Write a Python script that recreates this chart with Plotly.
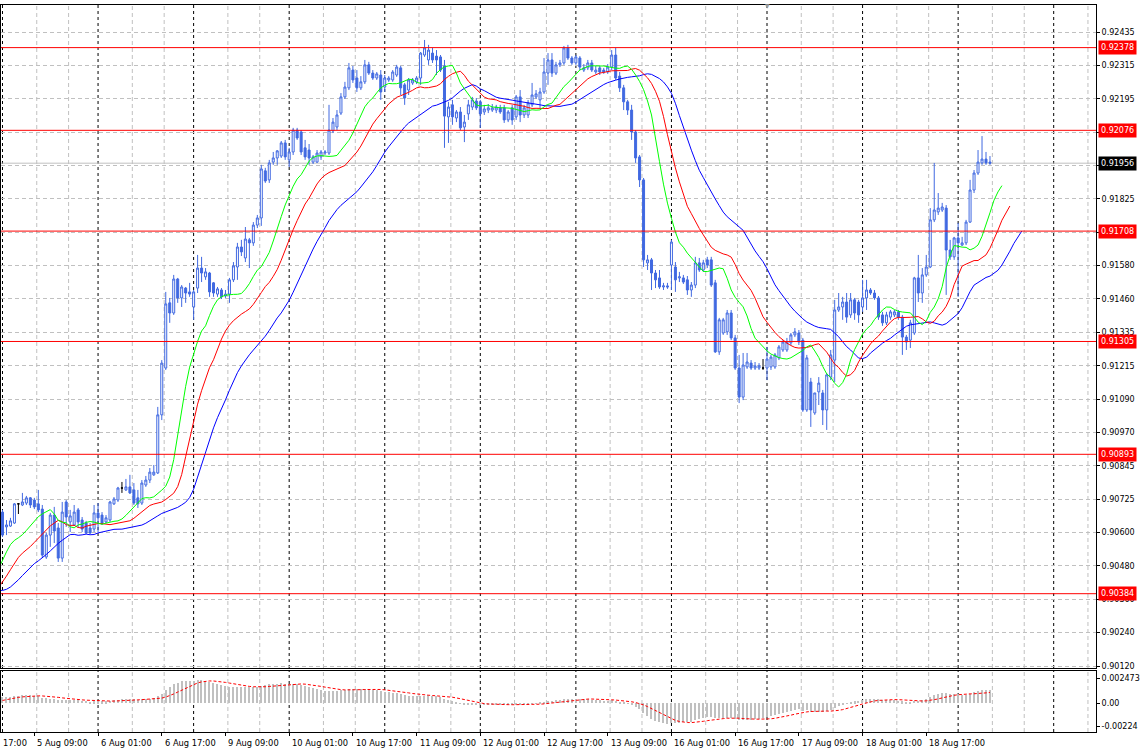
import numpy as np
import pandas as pd
import plotly.graph_objects as go

# ---------------- data (prices in points, 1 point = 0.00001) ----------------
# 30 hourly bars before the visible window (only used to warm up the indicators)
pre_open = [90450, 90440, 90455, 90430, 90420, 90445, 90460, 90440, 90425, 90410,
            90430, 90415, 90400, 90390, 90405, 90380, 90370, 90385, 90360, 90345,
            90330, 90350, 90370, 90420, 90480, 90540, 90590, 90620, 90650, 90660]
pre_high = [90462, 90467, 90467, 90442, 90457, 90472, 90472, 90452, 90437, 90442,
            90442, 90427, 90412, 90417, 90417, 90392, 90397, 90397, 90372, 90357,
            90362, 90382, 90432, 90492, 90552, 90602, 90632, 90662, 90672, 90692]
pre_low = [90428, 90428, 90418, 90408, 90408, 90433, 90428, 90413, 90398, 90398,
           90403, 90388, 90378, 90378, 90368, 90358, 90358, 90348, 90333, 90318,
           90318, 90338, 90358, 90408, 90468, 90528, 90578, 90608, 90638, 90648]
pre_close = [90440, 90455, 90430, 90420, 90445, 90460, 90440, 90425, 90410, 90430,
             90415, 90400, 90390, 90405, 90380, 90370, 90385, 90360, 90345, 90330,
             90350, 90370, 90420, 90480, 90540, 90590, 90620, 90650, 90660, 90680]

# visible H1 bars, 5 Aug 01:00 ... 19 Aug 09:00
bar_open = [
 90682, 90628, 90631, 90642, 90712, 90708, 90715, 90734, 90726, 90712,
 90693, 90518, 90598, 90671, 90624, 90514, 90719, 90646, 90635, 90690,
 90653, 90642, 90624, 90620, 90679, 90671, 90646, 90653, 90712, 90726,
 90770, 90763, 90774, 90763, 90734, 90715, 90781, 90799, 90818, 90825,
 91037, 91208, 91446, 91409, 91533, 91464, 91500, 91486, 91431, 91500,
 91573, 91541, 91555, 91519, 91478, 91493, 91471, 91478, 91530, 91577,
 91650, 91610, 91676, 91665, 91730, 91756, 91928, 91895, 91960, 91975,
 91982, 92030, 91968, 91997, 92077, 92070, 92012, 92004, 91960, 91960,
 91979, 91993, 91993, 92074, 92088, 92139, 92198, 92231, 92296, 92267,
 92231, 92253, 92315, 92285, 92267, 92278, 92234, 92260, 92260, 92278,
 92304, 92242, 92223, 92249, 92253, 92267, 92351, 92333, 92358, 92347,
 92344, 92311, 92125, 92169, 92121, 92143, 92088, 92136, 92161, 92183,
 92180, 92143, 92150, 92150, 92150, 92158, 92158, 92114, 92158, 92125,
 92198, 92132, 92132, 92169, 92198, 92187, 92216, 92285, 92333, 92285,
 92315, 92322, 92377, 92340, 92322, 92340, 92296, 92304, 92322, 92289,
 92304, 92296, 92289, 92307, 92351, 92274, 92231, 92180, 92150, 92070,
 91979, 91895, 91592, 91603, 91555, 91537, 91504, 91508, 91584, 91577,
 91537, 91537, 91530, 91493, 91511, 91592, 91566, 91603, 91603, 91519,
 91267, 91336, 91340, 91409, 91318, 91208, 91102, 91212, 91226, 91208,
 91208, 91208, 91208, 91212, 91212, 91245, 91274, 91274, 91300, 91329,
 91336, 91310, 91055, 91157, 91044, 91121, 91117, 91055, 91175, 91237,
 91420, 91431, 91449, 91402, 91457, 91449, 91431, 91464, 91493, 91482,
 91464, 91402, 91373, 91394, 91402, 91413, 91394, 91321, 91310, 91336,
 91537, 91482, 91548, 91577, 91749, 91778, 91785, 91792, 91639, 91614,
 91683, 91657, 91665, 91741, 91858, 91920, 91957, 91971, 91960]
bar_high = [
 90690, 90653, 90661, 90715, 90715, 90752, 90741, 90737, 90734, 90763,
 90708, 90606, 90679, 90701, 90642, 90719, 90726, 90690, 90708, 90697,
 90664, 90650, 90642, 90708, 90715, 90682, 90671, 90723, 90737, 90774,
 90792, 90803, 90818, 90788, 90763, 90799, 90814, 90843, 90854, 91066,
 91237, 91486, 91464, 91548, 91537, 91511, 91504, 91519, 91493, 91621,
 91614, 91573, 91559, 91522, 91504, 91500, 91493, 91537, 91595, 91665,
 91676, 91723, 91683, 91741, 91767, 91950, 91939, 91968, 91997, 92004,
 92037, 92041, 92012, 92085, 92085, 92077, 92041, 92026, 91986, 92004,
 92004, 92004, 92169, 92121, 92150, 92212, 92253, 92322, 92311, 92296,
 92274, 92333, 92326, 92296, 92289, 92296, 92278, 92274, 92296, 92315,
 92311, 92249, 92267, 92267, 92274, 92362, 92406, 92388, 92377, 92369,
 92351, 92333, 92180, 92187, 92150, 92161, 92132, 92187, 92198, 92194,
 92187, 92169, 92172, 92172, 92169, 92169, 92169, 92150, 92169, 92205,
 92223, 92169, 92187, 92249, 92223, 92231, 92340, 92358, 92358, 92326,
 92333, 92384, 92388, 92347, 92351, 92347, 92318, 92333, 92333, 92311,
 92311, 92304, 92318, 92369, 92377, 92289, 92242, 92187, 92169, 92077,
 91986, 91902, 91621, 91610, 91566, 91566, 91519, 91519, 91676, 91595,
 91559, 91548, 91544, 91522, 91614, 91610, 91603, 91614, 91614, 91530,
 91391, 91391, 91420, 91420, 91329, 91256, 91263, 91263, 91237, 91230,
 91226, 91241, 91285, 91256, 91263, 91292, 91310, 91318, 91336, 91354,
 91347, 91318, 91256, 91172, 91117, 91175, 91128, 91190, 91274, 91457,
 91482, 91468, 91482, 91482, 91464, 91457, 91530, 91530, 91500, 91493,
 91471, 91413, 91413, 91420, 91420, 91420, 91402, 91329, 91384, 91541,
 91621, 91573, 91621, 91792, 91957, 91847, 91811, 91803, 91676, 91687,
 91738, 91687, 91749, 91895, 91931, 92004, 92055, 91997, 91982]
bar_low = [
 90591, 90598, 90628, 90639, 90675, 90704, 90708, 90697, 90693, 90682,
 90514, 90511, 90555, 90569, 90500, 90500, 90628, 90609, 90631, 90624,
 90609, 90602, 90602, 90609, 90609, 90635, 90642, 90646, 90708, 90719,
 90752, 90759, 90748, 90708, 90697, 90708, 90774, 90788, 90814, 90821,
 91018, 91201, 91373, 91402, 91446, 91431, 91446, 91468, 91384, 91482,
 91522, 91530, 91468, 91468, 91468, 91460, 91464, 91446, 91522, 91530,
 91617, 91595, 91573, 91654, 91719, 91727, 91884, 91884, 91950, 91950,
 91975, 91968, 91942, 91986, 92041, 91986, 91968, 91950, 91953, 91957,
 91968, 91986, 91986, 92066, 92077, 92132, 92191, 92223, 92249, 92216,
 92223, 92245, 92278, 92260, 92260, 92187, 92216, 92253, 92253, 92271,
 92205, 92169, 92205, 92242, 92245, 92242, 92344, 92315, 92322, 92278,
 92289, 92012, 92030, 92096, 92106, 92077, 92033, 92114, 92150, 92150,
 92085, 92132, 92139, 92143, 92139, 92136, 92103, 92106, 92096, 92114,
 92106, 92121, 92121, 92161, 92191, 92158, 92209, 92242, 92271, 92278,
 92307, 92315, 92333, 92315, 92315, 92296, 92289, 92296, 92289, 92282,
 92278, 92282, 92282, 92296, 92260, 92216, 92150, 92132, 92041, 91957,
 91869, 91577, 91566, 91493, 91500, 91497, 91493, 91497, 91493, 91486,
 91522, 91515, 91475, 91468, 91500, 91559, 91559, 91573, 91504, 91263,
 91256, 91329, 91329, 91310, 91201, 91080, 91091, 91205, 91201, 91201,
 91201, 91201, 91164, 91201, 91205, 91237, 91267, 91267, 91292, 91321,
 91292, 91048, 91048, 90993, 91037, 91073, 91000, 90982, 91164, 91157,
 91413, 91384, 91373, 91391, 91384, 91373, 91413, 91420, 91475, 91457,
 91384, 91362, 91365, 91384, 91394, 91384, 91256, 91274, 91281, 91329,
 91449, 91446, 91541, 91573, 91741, 91767, 91778, 91475, 91603, 91603,
 91468, 91654, 91657, 91738, 91847, 91913, 91950, 91950, 91950]
bar_close = [
 90598, 90635, 90650, 90712, 90712, 90719, 90734, 90708, 90701, 90690,
 90525, 90598, 90671, 90613, 90514, 90682, 90664, 90668, 90682, 90646,
 90620, 90606, 90606, 90679, 90661, 90642, 90661, 90719, 90730, 90770,
 90770, 90774, 90752, 90715, 90712, 90788, 90799, 90828, 90828, 91037,
 91226, 91442, 91409, 91533, 91464, 91504, 91482, 91478, 91486, 91573,
 91555, 91559, 91486, 91482, 91497, 91468, 91478, 91530, 91581, 91650,
 91632, 91679, 91665, 91730, 91756, 91935, 91891, 91957, 91975, 92001,
 92030, 91979, 91997, 92077, 92048, 91997, 91979, 91975, 91979, 91993,
 91997, 91997, 92077, 92106, 92132, 92198, 92234, 92304, 92260, 92231,
 92253, 92315, 92285, 92267, 92282, 92216, 92267, 92267, 92289, 92307,
 92231, 92194, 92260, 92260, 92267, 92358, 92377, 92369, 92333, 92333,
 92296, 92128, 92161, 92125, 92143, 92085, 92106, 92169, 92187, 92158,
 92136, 92154, 92158, 92158, 92161, 92143, 92114, 92143, 92114, 92198,
 92132, 92158, 92176, 92205, 92209, 92216, 92289, 92333, 92285, 92315,
 92322, 92377, 92340, 92322, 92344, 92307, 92304, 92322, 92296, 92296,
 92289, 92289, 92307, 92351, 92267, 92231, 92180, 92150, 92070, 91975,
 91895, 91603, 91603, 91555, 91530, 91504, 91508, 91504, 91668, 91530,
 91541, 91522, 91493, 91511, 91592, 91566, 91592, 91584, 91511, 91267,
 91384, 91384, 91409, 91318, 91208, 91102, 91219, 91230, 91208, 91216,
 91216, 91208, 91241, 91248, 91256, 91285, 91303, 91303, 91329, 91340,
 91303, 91055, 91245, 91055, 91117, 91153, 91055, 91183, 91256, 91420,
 91431, 91449, 91394, 91457, 91409, 91402, 91464, 91493, 91482, 91464,
 91394, 91373, 91402, 91413, 91413, 91394, 91321, 91303, 91373, 91537,
 91482, 91548, 91577, 91749, 91785, 91792, 91796, 91639, 91614, 91683,
 91665, 91665, 91741, 91858, 91920, 91960, 91971, 91957, 91956]

# time-axis labels, one every 16 bars (first one starts 8 bars before the window,
# only its time part is visible at the left edge)
time_labels = ["4 Aug 17:00", "5 Aug 09:00", "6 Aug 01:00", "6 Aug 17:00", "9 Aug 09:00",
               "10 Aug 01:00", "10 Aug 17:00", "11 Aug 09:00", "12 Aug 01:00",
               "12 Aug 17:00", "13 Aug 09:00", "16 Aug 01:00", "16 Aug 17:00",
               "17 Aug 09:00", "18 Aug 01:00", "18 Aug 17:00"]
label_first_bar = -8
label_step = 16

# price scale labels (as printed on the right axis; "" where a level label covers it)
price_labels = ["0.90120", "0.90240", "0.90360", "0.90480", "0.90600", "0.90725", "0.90845",
                "0.90970", "0.91090", "0.91215", "0.91335", "0.91460", "0.91580", "",
                "0.91825", "", "", "0.92195", "0.92315", "0.92435"]

# horizontal levels drawn on the chart
levels = [0.92378, 0.92076, 0.91708, 0.91305, 0.90893, 0.90384]
bid_price = 0.91956

# MACD sub-window scale labels
macd_labels = [0.002473, 0.0, -0.00224]
macd_label_text = ["0.002473", "0.00", "-0.00224"]

# ---------------- derived series ----------------
P = 1e-5
o_all = np.array(pre_open + bar_open) * P
h_all = np.array(pre_high + bar_high) * P
l_all = np.array(pre_low + bar_low) * P
c_all = np.array(pre_close + bar_close) * P
n_pre = len(pre_open)
n = len(bar_open)
assert len(bar_high) == n and len(bar_low) == n and len(bar_close) == n
idx_all = np.arange(len(o_all)) - n_pre          # bar index (0 = first visible bar)

o = o_all[n_pre:]; h = h_all[n_pre:]; l = l_all[n_pre:]; c = c_all[n_pre:]
bars = np.arange(n)
doji = np.isclose(o, c)


def smma(src, period):
    out = np.full(len(src), np.nan)
    out[period - 1] = src[:period].mean()
    for k in range(period, len(src)):
        out[k] = (out[k - 1] * (period - 1) + src[k]) / period
    return out


median = (h_all + l_all) / 2
jaw = smma(median, 13)
teeth = smma(median, 8)
lips = smma(median, 5)

cs = pd.Series(c_all)
macd = (cs.ewm(span=12, adjust=False).mean() - cs.ewm(span=26, adjust=False).mean()).to_numpy()
signal = pd.Series(macd).rolling(9).mean().to_numpy()

# ---------------- styling ----------------
CANDLE = "#4169E1"
GRID = "#C0C0C0"
FAMILY = "DejaVu Sans, Liberation Sans, sans-serif"
FONT = dict(family=FAMILY, size=8, color="black")
XFONT = dict(family=FAMILY, size=8.3, color="black")

px_per_bar = 4
x_min = -0.375
x_max = x_min + 1100 / px_per_bar   # plot area 1100 px wide

fig = go.Figure()

fig.add_trace(go.Candlestick(
    x=bars[~doji], open=o[~doji], high=h[~doji], low=l[~doji], close=c[~doji],
    xaxis="x", yaxis="y", whiskerwidth=0,
    increasing=dict(line=dict(color=CANDLE, width=1), fillcolor="white"),
    decreasing=dict(line=dict(color=CANDLE, width=1), fillcolor=CANDLE),
    showlegend=False, hoverinfo="skip"))
fig.add_trace(go.Candlestick(
    x=bars[doji], open=o[doji], high=h[doji], low=l[doji], close=c[doji],
    xaxis="x", yaxis="y", whiskerwidth=0,
    increasing=dict(line=dict(color="black", width=1), fillcolor="black"),
    decreasing=dict(line=dict(color="black", width=1), fillcolor="black"),
    showlegend=False, hoverinfo="skip"))

# Alligator (jaw 13/8, teeth 8/5, lips 5/3)
for vals, shift, col in [(jaw, 8, "#0000FF"), (teeth, 5, "#FF0000"), (lips, 3, "#00FF00")]:
    fig.add_trace(go.Scatter(x=idx_all + shift, y=vals, mode="lines",
                             line=dict(color=col, width=1), xaxis="x", yaxis="y",
                             showlegend=False, hoverinfo="skip"))

# MACD sub window
fig.add_trace(go.Bar(x=bars, y=macd[n_pre:], width=0.3, marker=dict(color=GRID, line=dict(width=0)),
                     xaxis="x2", yaxis="y2", showlegend=False, hoverinfo="skip"))
fig.add_trace(go.Scatter(x=bars, y=signal[n_pre:], mode="lines",
                         line=dict(color="#FF0000", width=1, dash="3px,2px"),
                         xaxis="x2", yaxis="y2", showlegend=False, hoverinfo="skip"))

shapes = []
# period separators (every 24 bars) and in-between vertical grid
for b in np.arange(0, x_max, 24):
    for yref in ("y domain", "y2 domain"):
        shapes.append(dict(type="line", xref="x", yref=yref, x0=b, x1=b, y0=0, y1=1,
                           line=dict(color="black", width=1, dash="3px,3px"), layer="below"))
        for off in (8.6, 16.6):
            if b + off < x_max:
                shapes.append(dict(type="line", xref="x", yref=yref, x0=b + off, x1=b + off,
                                   y0=0, y1=1, line=dict(color=GRID, width=1, dash="4px,3px"),
                                   layer="below"))
# levels and bid line
for lv in levels:
    shapes.append(dict(type="line", xref="x domain", yref="y", x0=0, x1=1, y0=lv, y1=lv,
                       line=dict(color="#FF0000", width=1), layer="above"))
shapes.append(dict(type="line", xref="x domain", yref="y", x0=0, x1=1, y0=bid_price, y1=bid_price,
                   line=dict(color=GRID, width=1), layer="below"))

LBL_FONT = dict(family=FAMILY, size=8, color="white")
annotations = []
for lv in levels:
    annotations.append(dict(xref="paper", yref="y", x=1, y=lv, xanchor="left", yanchor="middle",
                            xshift=2, text=f"{lv:.5f}", showarrow=False, bgcolor="#FF0000",
                            font=LBL_FONT, borderpad=2))
annotations.append(dict(xref="paper", yref="y", x=1, y=bid_price, xanchor="left", yanchor="middle",
                        xshift=2, text=f"{bid_price:.5f}", showarrow=False, bgcolor="black",
                        font=LBL_FONT, borderpad=2))
for k, txt in enumerate(time_labels):
    b = label_first_bar + k * label_step
    xp = (b - x_min) / (x_max - x_min)
    if xp < 0:                       # label starts left of the chart: only the time shows
        txt, xp = txt.split()[-1], 0
    annotations.append(dict(xref="paper", yref="paper", x=xp, y=0,
                            xanchor="left", yanchor="top", xshift=1 if xp > 0 else 0,
                            yshift=-4, text=txt, showarrow=False, font=XFONT))
annotations.append(dict(xref="paper", yref="paper", x=0.7, y=1, xanchor="center", yanchor="middle",
                        yshift=0, text="▼", showarrow=False,
                        font=dict(family=FAMILY, size=6, color="#A0A0A0")))

tick_bars = [label_first_bar + k * label_step for k in range(len(time_labels))]
grid_vals = np.linspace(0.90120, 0.92435, len(price_labels))

H_TOT = 727.0
fig.update_layout(
    width=1140, height=754,
    margin=dict(l=0, r=40, t=5, b=22),
    paper_bgcolor="white", plot_bgcolor="white",
    showlegend=False, hovermode=False,
    boxgap=0.5, boxgroupgap=0,
    bargap=0,
    xaxis=dict(domain=[0, 1], range=[x_min, x_max], anchor="y", showgrid=False, zeroline=False,
               showline=True, mirror=True, linecolor="black", linewidth=1,
               showticklabels=False, ticks="", rangeslider=dict(visible=False)),
    xaxis2=dict(domain=[0, 1], range=[x_min, x_max], anchor="y2", matches="x", showgrid=False,
                zeroline=False, showline=True, mirror=True, linecolor="black", linewidth=1,
                tickmode="array", tickvals=tick_bars, ticks="outside", ticklen=3,
                tickcolor="black", showticklabels=False, rangeslider=dict(visible=False)),
    yaxis=dict(domain=[(732 - 668) / H_TOT, 1], anchor="x", side="right",
               range=[0.901127, 0.925336], tickmode="array", tickvals=grid_vals,
               ticktext=price_labels, showgrid=True, gridcolor=GRID, griddash="4px,3px",
               gridwidth=1, zeroline=False, showline=True, mirror=True, linecolor="black",
               linewidth=1, ticks="outside", ticklen=3, tickcolor="black", tickfont=FONT),
    yaxis2=dict(domain=[0, (732 - 671) / H_TOT], anchor="x2", side="right",
                range=[-0.002829, 0.003160], tickmode="array", tickvals=macd_labels,
                ticktext=macd_label_text, showgrid=False, zeroline=False, showline=True,
                mirror=True, linecolor="black", linewidth=1, ticks="outside", ticklen=3,
                tickcolor="black", tickfont=FONT),
    shapes=shapes, annotations=annotations,
)

fig.write_html("out.html", config={"displayModeBar": False},
               post_script="document.body.style.margin='0px';document.body.style.overflow='hidden';")
